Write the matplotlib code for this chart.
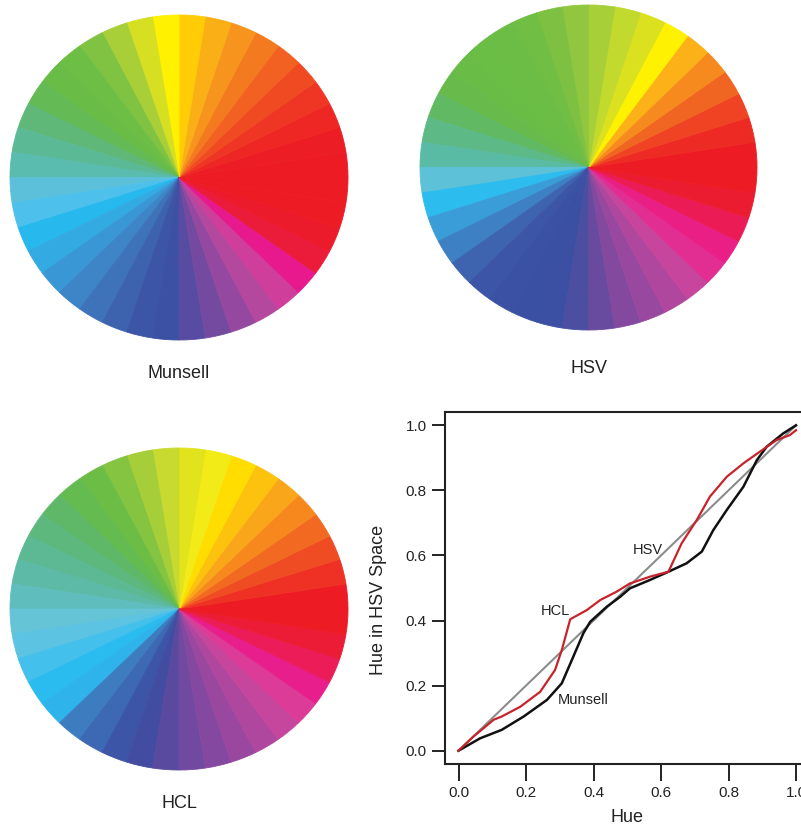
import numpy as np
import matplotlib
matplotlib.use('Agg')
import matplotlib.pyplot as plt

plt.rcParams['font.family'] = ['Liberation Sans', 'DejaVu Sans']

W, H = 801, 830

# wedge colours, 40 equal slices, counterclockwise from 3 o'clock
munsell_cols = [
    '#ED1C24', '#ED1D25', '#EE2624', '#EF3624', '#F04A23', '#F26122', '#F47A20', '#F7941D', '#FBAF17', '#FFCC05',
    '#FFF100', '#D7DF23', '#A8CF38', '#80C342', '#6DBE45', '#69BC46', '#64BA55', '#5FB878', '#5CB996', '#5ABBAF',
    '#5DC0DA', '#4DC1EC', '#27B9EE', '#33AAE2', '#3A97D5', '#3D85C7', '#3E73BA', '#3E63AE', '#3C55A6', '#3D51A4',
    '#574CA1', '#744AA0', '#95489F', '#B4489E', '#CE3E9A', '#E7198C', '#EB1C3A', '#EC1B2C', '#ED1C24', '#ED1C24',
]
hsv_cols = [
    '#ED1C24', '#EE2A24', '#EF4323', '#F16522', '#F68A1E', '#FBB117', '#FFF200', '#DCE11F', '#C2D92E', '#A7CF38',
    '#90C73E', '#7EC142', '#70BE44', '#6BBD45', '#6ABD45', '#69BC46', '#68BB4B', '#62B964', '#5DB985', '#5ABBA5',
    '#5DC2D7', '#2DBCEE', '#3B9DD8', '#3D80C3', '#3E64B0', '#3C55A6', '#3B52A4', '#3A51A3', '#3B50A3', '#4C4EA1',
    '#684B9F', '#82499F', '#99489F', '#B0479E', '#C8459D', '#E22D92', '#EA1F86', '#EB1C55', '#EC1C30', '#ED1C24',
]
hcl_cols = [
    '#ED1C24', '#EE3124', '#EF4C23', '#F26A21', '#F6881E', '#FAA61A', '#FDC20E', '#FFDD00', '#F2EB17', '#E1E31D',
    '#C8DA2F', '#A6CE39', '#84C441', '#6CBD45', '#64BB4F', '#5EB868', '#5DB87E', '#5CB994', '#5CBAA7', '#60BDBD',
    '#65C4D6', '#5CC3E2', '#44C0EC', '#2ABCEE', '#2EB3EA', '#3E7CC0', '#3D68B3', '#3C55A6', '#424DA1', '#5A4A9F',
    '#7049A0', '#8548A0', '#9A479F', '#AF479E', '#C6469D', '#DC3C98', '#E81E8C', '#EB1C58', '#EC1C36', '#ED1C24',
]
wedge_sizes = [1] * 40

# hue curves
munsell_x = [0, 0.064, 0.128, 0.193, 0.262, 0.306, 0.336, 0.370, 0.390, 0.44, 0.479, 0.508,
             0.568, 0.622, 0.676, 0.721, 0.755, 0.795, 0.844, 0.884, 0.913, 0.962, 1.0]
munsell_y = [0, 0.038, 0.064, 0.105, 0.156, 0.207, 0.279, 0.361, 0.396, 0.443, 0.473, 0.499,
             0.525, 0.550, 0.576, 0.612, 0.678, 0.740, 0.811, 0.893, 0.934, 0.975, 1.0]
hcl_x = [0, 0.044, 0.104, 0.128, 0.183, 0.242, 0.286, 0.306, 0.331, 0.38, 0.42, 0.469,
         0.508, 0.568, 0.622, 0.661, 0.706, 0.745, 0.795, 0.844, 0.893, 0.943, 0.982, 1.0]
hcl_y = [0, 0.043, 0.095, 0.105, 0.135, 0.181, 0.248, 0.309, 0.404, 0.432, 0.463, 0.489,
         0.514, 0.535, 0.550, 0.637, 0.709, 0.781, 0.842, 0.883, 0.919, 0.955, 0.970, 0.985]
hsv_x = [0, 1]
hsv_y = [0, 1]
ticks = [0.0, 0.2, 0.4, 0.6, 0.8, 1.0]

fig = plt.figure(figsize=(W / 100, H / 100), dpi=100)


def px_axes(cx, cy, rx, ry):
    return fig.add_axes([(cx - rx) / W, 1 - (cy + ry) / H, 2 * rx / W, 2 * ry / H])


def draw_pie(cx, cy, rx, ry, cols, title, base_y):
    ax = px_axes(cx, cy, rx, ry)
    ax.pie(wedge_sizes, colors=cols, startangle=0, counterclock=True, radius=1,
           wedgeprops=dict(linewidth=0.6, edgecolor=None))
    for w, c in zip(ax.patches, cols):
        w.set_edgecolor(c)
    ax.set_aspect('auto')
    ax.set_xlim(-1, 1)
    ax.set_ylim(-1, 1)
    ax.axis('off')
    fig.text(cx / W, 1 - base_y / H, title, ha='center', va='baseline', fontsize=13, color='#222222')


draw_pie(179, 177.5, 169, 162.5, munsell_cols, 'Munsell', 378)
draw_pie(588.5, 167.5, 168.5, 162.5, hsv_cols, 'HSV', 373)
draw_pie(179, 609, 169, 161, hcl_cols, 'HCL', 808)

# hue comparison plot
ax = fig.add_axes([445 / W, 1 - 763.7 / H, 364.5 / W, 351.4 / H])
ax.plot(hsv_x, hsv_y, color='#8C8C8C', lw=1.5, zorder=2)
ax.plot(munsell_x, munsell_y, color='#111111', lw=1.8, zorder=3)
ax.plot(hcl_x, hcl_y, color='#C8232B', lw=1.6, zorder=4)
ax.set_xlim(-0.04, 1.04)
ax.set_ylim(-0.04, 1.04)
ax.set_xticks(ticks)
ax.set_yticks(ticks)
ax.set_xticklabels([f'{t:.1f}' for t in ticks])
ax.set_yticklabels([f'{t:.1f}' for t in ticks])
ax.tick_params(axis='x', direction='out', length=12, width=1.4, pad=4, labelsize=11, colors='#222222')
ax.tick_params(axis='y', direction='out', length=9.5, width=1.4, pad=3.5, labelsize=11, colors='#222222')
for s in ax.spines.values():
    s.set_linewidth(1.5)
    s.set_color('#222222')
ax.set_xlabel('Hue', fontsize=13, color='#222222')
ax.xaxis.set_label_coords(0.5, -0.128)
ax.set_ylabel('Hue in HSV Space', fontsize=13, color='#222222')
ax.yaxis.set_label_coords(-0.158, 0.466)

ax.text(0.562, 0.617, 'HSV', ha='center', va='center', fontsize=10.5, color='#222222')
ax.text(0.286, 0.429, 'HCL', ha='center', va='center', fontsize=10.5, color='#222222')
ax.text(0.369, 0.156, 'Munsell', ha='center', va='center', fontsize=10.5, color='#222222')

fig.savefig('out.png', dpi=100)
